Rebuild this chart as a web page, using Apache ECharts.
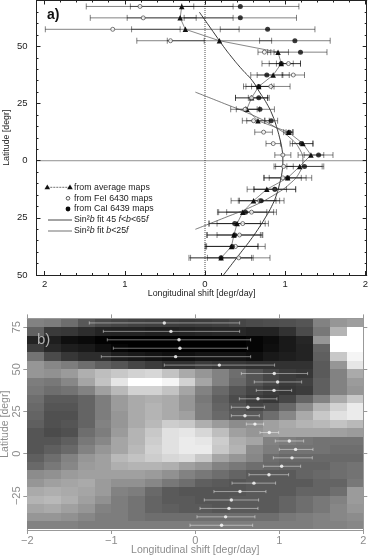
<!DOCTYPE html>
<html>
<head>
<meta charset="utf-8">
<style>html,body{margin:0;padding:0;background:#fff}#main{width:369px;height:555px}</style>
<script src="https://cdn.jsdelivr.net/npm/echarts@6/dist/echarts.min.js"></script>
</head>
<body>
<div id="main"></div>
<script>
// panel a - rows are latitude bins
var latA = [67.5,62.5,57.5,52.5,47.5,42.5,37.5,32.5,27.5,22.5,17.5,12.5,7.5,2.5,-2.5,-7.5,-12.5,-17.5,-22.5,-27.5,-32.5,-37.5,-42.5];
var avgShift = [-.29,-.31,-.245,.18,.91,.95,.85,.67,.58,.52,.66,1.04,1.22,1.32,1.18,1.03,.77,.605,.47,.40,.36,.33,.20];
var feShift = [-.81,-.77,-1.15,-.43,.74,1.04,1.10,.82,.58,.50,.605,.73,.85,.97,.98,.97,.87,.68,.58,.47,.43,.38,.42];
var caShift = [.44,.44,.78,1.12,1.19,.95,.77,.67,.67,.685,.825,1.05,1.20,1.415,1.24,1.03,.87,.70,.505,.37,.37,.34,.20];
var avgErr = [.64,.66,.67,.65,.13,.15,.20,.16,.20,.13,.14,.06,.13,.16,.30,.23,.245,.28,.30,.35,.33,.33,.40];
var feErr = [.67,.66,.84,.42,.08,.15,.14,.24,.20,.18,.14,.11,.09,.10,.12,.23,.26,.25,.31,.32,.28,.37,.39];
var caErr = [.73,.70,.59,.44,.33,.24,.20,.19,.13,.18,.08,.04,.14,.18,.22,.30,.26,.285,.35,.32,.35,.32,.38];
// fitted curves
var fitWideLat = [65,60,55,50,45,40,35,30,25,20,15,10,5,0,-5,-10,-15,-20,-25,-30,-35,-40,-45,-50];
var fitWide = [-.07,.03,.13,.23,.34,.46,.59,.68,.77,.84,.89,.93,.96,.97,.96,.93,.89,.83,.75,.66,.56,.45,.34,.23];
var fitLowLat = [30,25,20,15,10,5,0,-5,-10,-15,-20,-25,-30];
var fitLow = [-.12,.24,.59,.86,1.06,1.18,1.22,1.18,1.06,.86,.59,.24,-.12];

// panel b
var latB = [77.5,72.5,67.5,62.5,57.5,52.5,47.5,42.5,37.5,32.5,27.5,22.5,17.5,12.5,7.5,2.5,-2.5,-7.5,-12.5,-17.5,-22.5,-27.5,-32.5,-37.5,-42.5];
var shiftB = [-.369,-.29,-.194,-.183,-.234,.286,.94,.98,.937,.746,.627,.591,.71,.881,1.119,1.194,1.151,1.028,.877,.698,.532,.429,.401,.361,.313];
var shiftLo = [-1.262,-1.095,-1.048,-.976,-1.119,-.369,.548,.702,.726,.524,.429,.429,.607,.77,.952,1,.929,.81,.639,.437,.222,.107,.056,.02,-.063];
var shiftHi = [.528,.528,.659,.623,.659,.944,1.337,1.266,1.147,.972,.825,.762,.813,.992,1.29,1.401,1.393,1.254,1.111,.956,.841,.754,.746,.71,.683];
var lonEdges = [-2,-1.8,-1.6,-1.4,-1.2,-1,-.8,-.6,-.4,-.2,0,.2,.4,.6,.8,1,1.2,1.4,1.6,1.8];
var grayRows = [
 [130,125,110,88,75,70,66,64,62,60,62,65,70,75,78,80,85,130,150,158],
 [98,58,55,45,36,35,35,32,32,35,38,40,40,35,35,50,75,120,180,255],
 [35,30,15,10,2,0,0,0,0,0,0,0,0,5,12,25,38,150,255,255],
 [60,40,30,25,15,5,0,0,0,0,0,0,0,5,15,25,35,100,255,255],
 [115,75,55,45,45,30,25,20,15,15,20,20,20,15,25,30,35,95,200,245],
 [150,135,125,110,95,85,70,60,50,50,60,55,55,50,50,50,50,90,150,230],
 [150,145,155,175,190,200,210,215,195,170,150,130,110,85,70,60,55,90,130,170],
 [125,120,135,165,195,230,255,255,245,210,165,130,105,85,70,60,65,95,130,155],
 [120,110,115,130,160,185,210,210,195,165,130,105,85,70,60,55,60,95,130,150],
 [110,90,90,100,125,155,170,175,170,150,120,95,75,60,55,70,100,130,170,200],
 [105,85,85,100,125,155,170,180,170,150,125,100,85,70,80,105,140,180,210,235],
 [100,80,80,100,125,150,170,180,170,160,125,105,90,90,110,135,170,200,225,235],
 [95,80,85,100,130,150,170,185,205,200,175,155,140,145,160,170,180,185,195,185],
 [85,75,80,110,125,155,180,200,225,230,215,190,160,150,160,165,165,165,160,155],
 [85,85,95,120,135,165,180,205,225,235,230,205,175,165,130,125,120,115,115,115],
 [85,95,105,130,150,165,185,210,225,235,235,200,180,140,125,115,115,115,110,110],
 [95,110,130,150,160,185,195,205,215,220,200,165,150,135,110,105,105,105,105,105],
 [105,120,135,155,160,175,180,180,175,160,150,130,120,110,105,100,100,100,110,115],
 [140,145,155,160,160,160,160,155,145,130,120,110,100,90,90,90,100,105,110,115],
 [150,160,165,170,155,145,145,135,120,110,95,90,85,90,90,90,90,100,100,120],
 [170,175,170,165,155,130,125,105,90,85,85,85,85,90,90,90,100,100,110,155],
 [180,185,175,160,145,125,115,100,90,90,85,85,90,90,90,100,110,120,130,155],
 [165,170,160,150,130,125,115,100,95,90,90,85,90,90,90,100,110,120,135,150],
 [150,150,145,135,125,125,115,110,110,110,110,110,110,110,110,120,125,130,135,140],
 [130,130,130,125,125,125,125,125,125,125,125,125,125,125,125,125,125,130,130,135]
];

// tick labels
var majorLonA = [-2,-1,0,1,2];
var minorLonA = [-2,-1.8,-1.6,-1.4,-1.2,-1,-.8,-.6,-.4,-.2,0,.2,.4,.6,.8,1,1.2,1.4,1.6,1.8,2];
var majorLatA = [-50,-25,0,25,50];
var minorLatA = [-50,-45,-40,-35,-30,-25,-20,-15,-10,-5,0,5,10,15,20,25,30,35,40,45,50,55,60,65,70];
var ticksLonB = [-2,-1,0,1,2];
var ticksLatB = [-25,0,25,50,75];

var INK = '#222', FONT = '"Liberation Sans", sans-serif', PALE = '#8c8c8c';

function zip(lat, val){ return lat.map(function(l,i){ return [val[i], l]; }); }
function errData(val, err){ return latA.map(function(l,i){ return [val[i]-err[i], val[i]+err[i], l]; }); }

// horizontal bar with two end caps
function barItem(capH, color, width){
    return function(params, api){
        var a = api.coord([api.value(0), api.value(2)]);
        var b = api.coord([api.value(1), api.value(2)]);
        var st = {stroke: color, lineWidth: width, fill: null};
        return {type:'group', children:[
            {type:'line', shape:{x1:a[0],y1:a[1],x2:b[0],y2:b[1]}, style:st},
            {type:'line', shape:{x1:a[0],y1:a[1]-capH,x2:a[0],y2:a[1]+capH}, style:st},
            {type:'line', shape:{x1:b[0],y1:b[1]-capH,x2:b[0],y2:b[1]+capH}, style:st}
        ]};
    };
}

function cellItem(params, api){
    var lon = api.value(0), lat = api.value(1), g = api.value(2);
    var p = api.coord([lon, lat+2.5]), q = api.coord([lon+.2, lat-2.5]);
    var x = Math.round(p[0]), y = Math.round(p[1]);
    return {type:'rect', shape:{x:x, y:y, width:Math.round(q[0])-x, height:Math.round(q[1])-y},
        style:{fill:'rgb('+g+','+g+','+g+')'}};
}

var cells = [];
grayRows.forEach(function(row,i){
    row.forEach(function(g,j){ cells.push([lonEdges[j], latB[i], g]); });
});

function tickAxis(gridIndex, pos, min, max, vals, len, inside, color, labels){
    var ax = {
        type:'value', gridIndex:gridIndex, position:pos, min:min, max:max,
        splitLine:{show:false},
        axisLine:{show:true, onZero:false, lineStyle:{color:color, width:1}},
        axisTick:{show:true, inside:inside, length:len, customValues:vals, lineStyle:{color:color, width:1}},
        axisLabel:{show:false}
    };
    if(labels) ax.axisLabel = labels;
    return ax;
}

var labelA = {show:true, customValues:null, fontFamily:FONT, fontSize:9.5, color:INK, formatter:function(v){ return String(Math.abs(v)); }};
var xA = Object.assign({}, labelA, {customValues:majorLonA, margin:4});
var yA = Object.assign({}, labelA, {customValues:majorLatA, margin:9});
var labelB = {show:true, fontFamily:FONT, fontSize:11, color:PALE, formatter:function(v){ return String(v).replace('-','\u2212'); }};
var xB = Object.assign({}, labelB, {customValues:ticksLonB, margin:5});
var yB = Object.assign({}, labelB, {customValues:ticksLatB, margin:5, rotate:90});

var LONA = [-2.1, 2.015], LATA = [-50, 70.1], LATB = [-45.3, 80.2];
var xAxes = [
    tickAxis(0,'bottom',LONA[0],LONA[1],majorLonA,4,true,INK,xA),
    tickAxis(0,'top',LONA[0],LONA[1],majorLonA,4,true,INK),
    tickAxis(1,'bottom',LONA[0],LONA[1],minorLonA,2,true,INK),
    tickAxis(1,'top',LONA[0],LONA[1],minorLonA,2,true,INK),
    tickAxis(2,'bottom',-2,2,ticksLonB,4,false,'#999',xB),
    tickAxis(2,'top',-2,2,ticksLonB,4,false,'#999')
];
var yAxes = [
    tickAxis(0,'left',LATA[0],LATA[1],majorLatA,4,true,INK,yA),
    tickAxis(0,'right',LATA[0],LATA[1],majorLatA,4,true,INK),
    tickAxis(1,'left',LATA[0],LATA[1],minorLatA,2,true,INK),
    tickAxis(1,'right',LATA[0],LATA[1],minorLatA,2,true,INK),
    tickAxis(2,'left',LATB[0],LATB[1],ticksLatB,4,false,'#999',yB),
    tickAxis(2,'right',LATB[0],LATB[1],ticksLatB,4,false,'#999')
];
function nameIt(ax, name, gap, size, color){
    ax.name = name; ax.nameLocation = 'middle'; ax.nameGap = gap; ax.nameMoveOverlap = false;
    ax.nameTextStyle = {fontFamily:FONT, fontSize:size, color:color};
}
nameIt(xAxes[0],'Longitudinal shift [degr/day]',14.5,8.8,INK);
nameIt(yAxes[0],'Latitude [degr]',25,8.8,INK);
nameIt(xAxes[4],'Longitudinal shift [degr/day]',14.5,10.5,PALE);
nameIt(yAxes[4],'Latitude [degr]',17,10.5,PALE);

var barA = barItem(3, 'rgba(0,0,0,.55)', .9);
var mark = {z:5, xAxisIndex:0, yAxisIndex:0};
var series = [
    {type:'custom', data:errData(feShift,feErr), renderItem:barA, xAxisIndex:0, yAxisIndex:0, z:2, silent:true},
    {type:'custom', data:errData(avgShift,avgErr), renderItem:barA, xAxisIndex:0, yAxisIndex:0, z:2, silent:true},
    {type:'custom', data:errData(caShift,caErr), renderItem:barA, xAxisIndex:0, yAxisIndex:0, z:2, silent:true},
    {type:'line', data:[[0,LATA[0]],[0,LATA[1]]], symbol:'none', xAxisIndex:0, yAxisIndex:0, z:1,
        lineStyle:{color:'#222', width:.8, type:[1,1]}},
    {type:'line', data:[[LONA[0],0],[LONA[1],0]], symbol:'none', xAxisIndex:0, yAxisIndex:0, z:1,
        lineStyle:{color:'#222', width:1, type:[1,1]}},
    {type:'line', data:zip(fitWideLat,fitWide), smooth:true, symbol:'none', xAxisIndex:0, yAxisIndex:0, z:3,
        lineStyle:{color:'#222', width:.9}},
    {type:'line', data:zip(fitLowLat,fitLow), smooth:true, symbol:'none', xAxisIndex:0, yAxisIndex:0, z:3,
        lineStyle:{color:'#444', width:.7}},
    Object.assign({type:'line', data:zip(latA,avgShift), symbol:'triangle', symbolSize:5.5,
        lineStyle:{color:'#555', width:.7}, itemStyle:{color:'#111'}}, mark),
    Object.assign({type:'scatter', data:zip(latA,feShift), symbol:'circle', symbolSize:4,
        itemStyle:{color:'#fff', borderColor:'#444', borderWidth:.9}}, mark),
    Object.assign({type:'scatter', data:zip(latA,caShift), symbol:'circle', symbolSize:5,
        itemStyle:{color:'#0a0a0a'}}, mark),
    {type:'custom', data:cells, renderItem:cellItem, xAxisIndex:4, yAxisIndex:4, z:1, silent:true},
    {type:'custom', data:latB.map(function(l,i){ return [shiftLo[i], shiftHi[i], l]; }),
        renderItem:barItem(1.6,'rgba(255,255,255,.55)',.8), xAxisIndex:4, yAxisIndex:4, z:3, silent:true},
    {type:'scatter', data:zip(latB,shiftB), symbol:'circle', symbolSize:3.4, xAxisIndex:4, yAxisIndex:4, z:4,
        itemStyle:{color:'#fff'}}
];

function label(x, y, t, extra){
    return {type:'text', x:x, y:y, z:20, style:Object.assign({text:t, fontFamily:FONT, fontSize:8.8, fill:INK,
        verticalAlign:'middle', rich:{i:{fontStyle:'italic', fontFamily:FONT, fontSize:8.8, fill:INK}}}, extra||{})};
}
function tri(x,y){
    return {type:'polygon', z:20, shape:{points:[[x,y-2.8],[x+2.8,y+2],[x-2.8,y+2]]}, style:{fill:'#111'}};
}
function seg(x1,x2,y,w,dash){
    return {type:'line', z:20, shape:{x1:x1,y1:y,x2:x2,y2:y}, style:{stroke:'#333', lineWidth:w, lineDash:dash||null}};
}

var option = {
    animation:false,
    backgroundColor:'#fff',
    grid:[
        {left:36.5, top:.5, width:330.2, height:274.5, outerBoundsMode:'none'},
        {left:36.5, top:.5, width:330.2, height:274.5, outerBoundsMode:'none'},
        {left:27.3, top:318.4, width:336, height:211.6, outerBoundsMode:'none'}
    ],
    xAxis:xAxes,
    yAxis:yAxes,
    series:series,
    graphic:[
        label(47,15,'a)',{fontSize:14, fontWeight:'bold', fill:'#111'}),
        seg(47.3,70,187.3,.7,[2,1]), tri(47.3,187.3), tri(70,187.3),
        label(74,187.3,'from average maps'),
        {type:'circle', z:20, shape:{cx:68,cy:198.3,r:1.8}, style:{fill:'#fff',stroke:'#444',lineWidth:.9}},
        label(74,198.3,'from FeI 6430 maps'),
        {type:'circle', z:20, shape:{cx:68,cy:209,r:2.4}, style:{fill:'#0a0a0a'}},
        label(74,209,'from CaI 6439 maps'),
        seg(48,72,220,.9),
        label(74,220,'Sin\u00b2{i|b} fit 45 {i|f}<{i|b}<65{i|f}'),
        seg(48,72,231,.7),
        label(74,231,'Sin\u00b2{i|b} fit {i|b}<25{i|f}'),
        label(37,340,'b)',{fontSize:15, fill:'#b0b0b0'})
    ]
};

var myChart = echarts.init(document.getElementById('main'), null, {renderer:'canvas'});
myChart.setOption(option);
</script>
</body>
</html>
